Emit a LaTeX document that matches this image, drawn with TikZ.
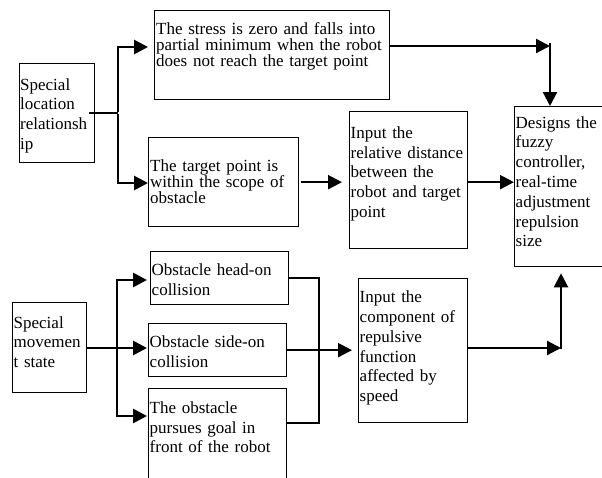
\documentclass[tikz,border=0pt]{standalone}
\usepackage{fontspec}
\setmainfont{Liberation Serif}
\usetikzlibrary{arrows.meta}

\tikzstyle{blockbox} = [draw, rectangle, line width=1.3pt, inner sep=0pt, anchor=north west]
\tikzstyle{blocktext} = [anchor=base west, align=left, inner sep=0pt, text width=260pt, font=\fontsize{17}{19.8}\selectfont]
\tikzstyle{tighttext} = [blocktext, font=\fontsize{17}{16}\selectfont]
\tikzstyle{link} = [line width=2.2pt]
\tikzstyle{trunk} = [line width=2.8pt]
\tikzstyle{flow} = [link, -{Triangle[length=14pt,width=14pt]}]
\tikzstyle{flowthick} = [trunk, -{Triangle[length=14pt,width=14pt]}]

\begin{document}
\begin{tikzpicture}[x=1pt, y=-1pt]
    \useasboundingbox (0,0) rectangle (602,477);
    \clip (0,0) rectangle (602,477);

    % boxes
    \node[blockbox, minimum width=75pt, minimum height=99pt] (loc) at (19,63) {};
    \node[blockbox, minimum width=235pt, minimum height=89pt] (stress) at (154,10) {};
    \node[blockbox, minimum width=150pt, minimum height=89pt] (target) at (148,137) {};
    \node[blockbox, minimum width=118pt, minimum height=137pt] (dist) at (349,111) {};
    \node[blockbox, minimum width=100pt, minimum height=160pt] (fuzzy) at (514,106) {};
    \node[blockbox, minimum width=74pt, minimum height=90pt] (move) at (12,302) {};
    \node[blockbox, minimum width=138pt, minimum height=53pt] (headon) at (150,251) {};
    \node[blockbox, minimum width=138pt, minimum height=53pt] (sideon) at (148,323) {};
    \node[blockbox, minimum width=138pt, minimum height=102pt] (pursue) at (148,388) {};
    \node[blockbox, minimum width=109pt, minimum height=144pt] (comp) at (358,278) {};

    % texts
    \node[blocktext] (loc-t) at (20,90) {Special\\location\\relationsh\\ip};
    \node[tighttext] (stress-t) at (156,34) {The stress is zero and falls into\\partial minimum when the robot\\does not reach the target point};
    \node[tighttext] (target-t) at (150,171.5) {The target point is\\within the scope of\\obstacle};
    \node[blocktext] (dist-t) at (350.5,138.3) {Input the\\relative distance\\between the\\robot and target\\point};
    \node[blocktext] (fuzzy-t) at (515.5,128) {Designs the\\fuzzy\\controller,\\real-time\\adjustment\\repulsion\\size};
    \node[blocktext] (move-t) at (13.5,328) {Special\\movemen\\t state};
    \node[blocktext] (headon-t) at (151.5,275.7) {Obstacle head-on\\collision};
    \node[blocktext] (sideon-t) at (149.5,347.3) {Obstacle side-on\\collision};
    \node[blocktext] (pursue-t) at (149.5,413.3) {The obstacle\\pursues goal in\\front of the robot};
    \node[blocktext] (comp-t) at (359.5,302.7) {Input the\\component of\\repulsive\\function\\affected by\\speed};

    % fork points and arrow ends
    \coordinate (f1) at (118,113);
    \coordinate (a1) at (148,47);
    \coordinate (a2) at (148,183);
    \coordinate (f2) at (117,348);
    \coordinate (b1) at (147,280);
    \coordinate (b2) at (147,348);
    \coordinate (b3) at (147,416);
    \coordinate (r2) at (319,423);
    \coordinate (c1) at (550,46);
    \coordinate (c2) at (561,348);

    % upper branch
    \draw[trunk] ([xshift=-6pt]loc.east |- f1) -- (f1);
    \draw[flowthick] ([yshift=1pt]f1) |- (a1);
    \draw[flowthick] ([yshift=-1pt]f1) |- (a2);
    \draw[flow] (stress.east |- c1) -- (c1);
    \draw[flow] ([yshift=3pt]c1) -- (fuzzy.north -| c1);
    \draw[flow] ([xshift=2pt]target.east) -- ([xshift=-7pt]dist.west |- target.east);
    \draw[flow] (dist.east |- target.east) -- (fuzzy.west |- target.east);

    % lower branch
    \draw[trunk] (move.east |- f2) -- (f2);
    \draw[flowthick] ([yshift=1pt]f2) |- (b1);
    \draw[flowthick] (f2) -- (b2);
    \draw[flowthick] ([yshift=-1pt]f2) |- (b3);
    \draw[link] (headon.east) -| (r2) -- (r2 -| pursue.east);
    \draw[flow] (sideon.east) -- ([xshift=-6pt]comp.west |- sideon.east);
    \draw[flow] (comp.east |- c2) -- (c2);
    \draw[flow] ([yshift=-1pt]c2) -- ([yshift=-6pt]fuzzy.south -| c2);
\end{tikzpicture}
\end{document}
